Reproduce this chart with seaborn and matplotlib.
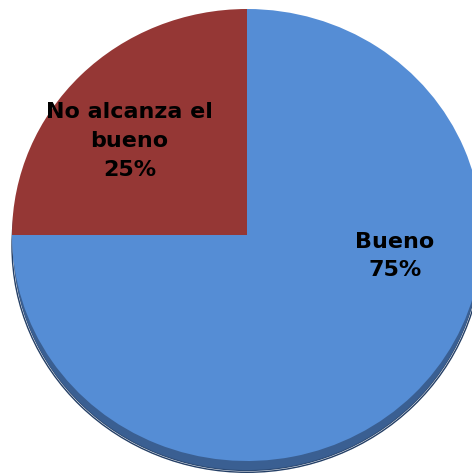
import matplotlib
matplotlib.use("Agg")
import matplotlib.pyplot as plt
import seaborn as sns
from matplotlib.patches import Ellipse

categories = ["Bueno", "No alcanza el\nbueno"]
values = [75, 25]
colors = ["#558dd5", "#953735"]

sns.set_theme(style="white")
plt.rcParams['font.family'] = ['DejaVu Sans']

fig = plt.figure(figsize=(4.72, 4.73), dpi=100)
ax = fig.add_axes([0, 0, 1, 1])

# shadow (3D edge)
for dy, c in [(0.050, "#2c4a74"), (0.045, "#3a5f92")]:
    ax.add_patch(Ellipse((0, -dy), 2.0 - 0.01, 2.0 - 0.01, facecolor=c, edgecolor="none", zorder=0))
ax.add_patch(Ellipse((0, -0.050), 2.0, 2.0, facecolor="none", edgecolor="#243f66", linewidth=1.0, zorder=0.5))

wedges, _ = ax.pie(values, colors=colors, startangle=90, counterclock=False,
                   radius=1.0, center=(0, 0),
                   wedgeprops=dict(edgecolor="none", linewidth=0))
for w in wedges:
    w.set_zorder(1)

label_pos = [(0.63, -0.093), (-0.50, 0.415)]
total = sum(values)
for cat, v, (x, y) in zip(categories, values, label_pos):
    ax.text(x, y, f"{cat}\n{round(100 * v / total)}%", ha="center", va="center",
            fontsize=16, fontweight="bold", color="black", linespacing=1.55, zorder=3)

ax.set_aspect("auto")
ax.set_xlim(-247 / 235, 225 / 235)
ax.set_ylim(-238 / 226, 235 / 226)
ax.axis("off")
fig.savefig("out.png", dpi=100)
